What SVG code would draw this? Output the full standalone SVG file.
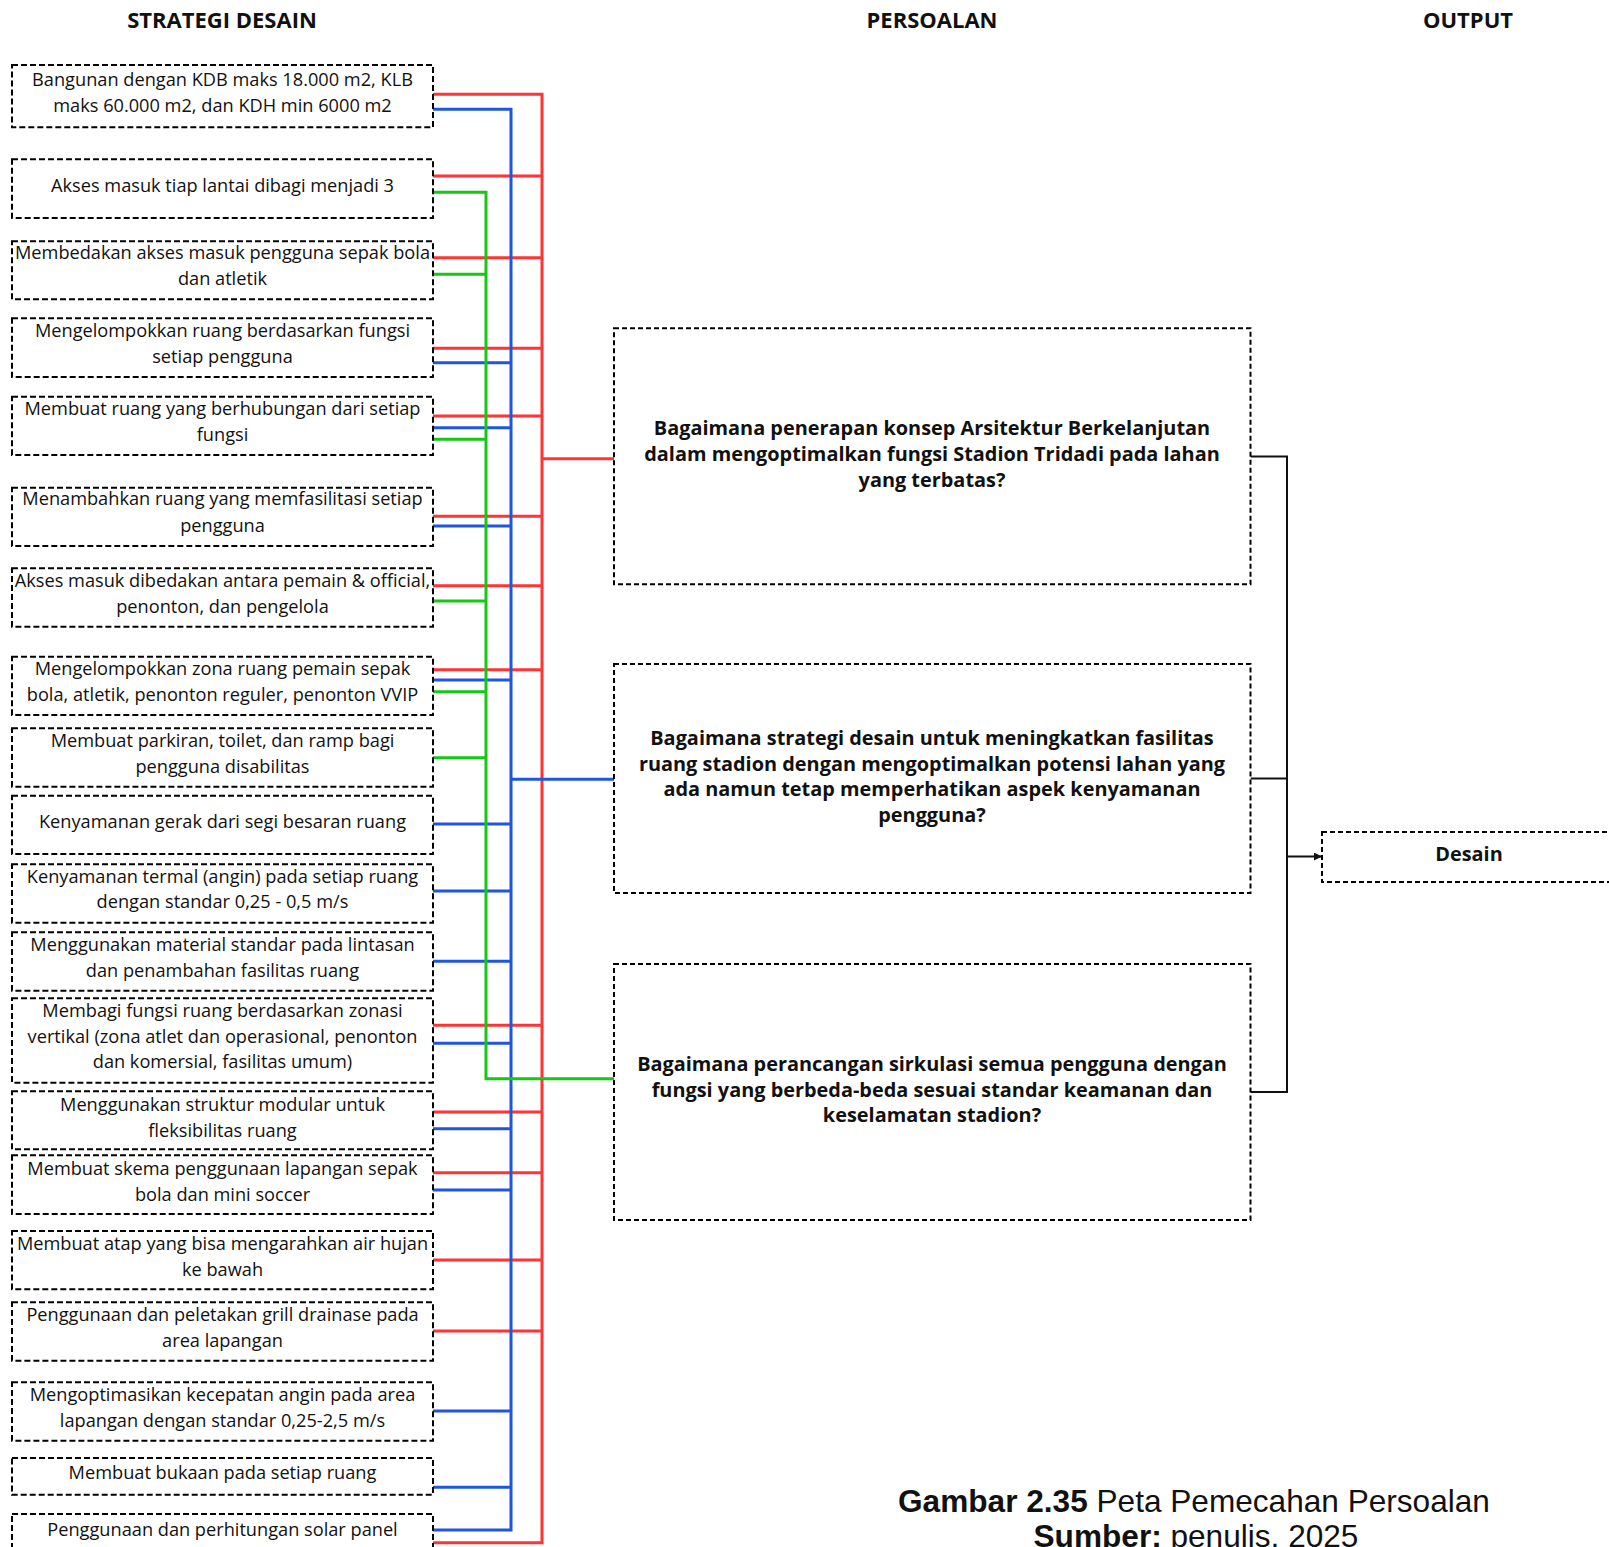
<svg xmlns="http://www.w3.org/2000/svg" width="1609" height="1547" viewBox="0 0 1609 1547">
<defs>
<style>
.bx{fill:#fff;stroke:#000;stroke-width:2;stroke-dasharray:6 3}
.qb{fill:#fff;stroke:#000;stroke-width:2;stroke-dasharray:5 3}
.t{font-family:"Open Sans","Noto Sans",sans-serif;font-size:18.2px;fill:#111;text-anchor:middle}
.q{font-family:"Open Sans","Noto Sans",sans-serif;font-size:19.9px;font-weight:bold;fill:#111;text-anchor:middle}
.h{font-family:"Open Sans","Noto Sans",sans-serif;font-size:22px;font-weight:bold;fill:#111;text-anchor:middle}
.r{stroke:#ff3535;stroke-width:3;fill:none}
.b{stroke:#1f55e0;stroke-width:3;fill:none}
.g{stroke:#14c814;stroke-width:3;fill:none}
.k{stroke:#111;stroke-width:2;fill:none}
</style>
<marker id="arr" markerWidth="8" markerHeight="8" refX="7" refY="4" orient="auto" markerUnits="userSpaceOnUse">
<path d="M0,0 L8,4 L0,8 Z" fill="#111"/>
</marker>
</defs>
<rect width="1609" height="1547" fill="#fff"/>

<g id="headers">
<text class="h" x="222" y="28">STRATEGI DESAIN</text>
<text class="h" x="932" y="28">PERSOALAN</text>
<text class="h" x="1468" y="28">OUTPUT</text>
</g>

<g id="connectors">
<path class="r" d="M433,94.3 H542 V1542.7 H433"/>
<path class="r" d="M433,176 H542 M433,257.7 H542 M433,348.3 H542 M433,416 H542 M433,516.3 H542 M433,585.7 H542 M433,669.7 H542 M433,1025.3 H542 M433,1112 H542 M433,1172.7 H542 M433,1260 H542 M433,1331 H542"/>
<path class="r" d="M542,458.7 H614"/>
<path class="b" d="M433,109.3 H511 V1530 H433"/>
<path class="b" d="M433,362.7 H511 M433,427.7 H511 M433,526 H511 M433,680 H511 M433,824 H511 M433,891 H511 M433,961.3 H511 M433,1043.3 H511 M433,1128.7 H511 M433,1190 H511 M433,1411 H511 M433,1487.3 H511"/>
<path class="b" d="M511,779.3 H614"/>
<path class="g" d="M433,192.3 H486 V1078.7 H614"/>
<path class="g" d="M433,274.3 H486 M433,439.3 H486 M433,601 H486 M433,691.7 H486 M433,757.7 H486"/>
<path class="k" d="M1250.5,456.6 H1287 V1092 H1250.5 M1250.5,778.5 H1287"/>
<path class="k" d="M1287,856.6 H1321" marker-end="url(#arr)"/>
</g>

<g id="s1"><rect class="bx" x="12" y="65" width="421" height="62.3"/><text class="t"><tspan x="222.5" y="86">Bangunan dengan KDB maks 18.000 m2, KLB</tspan><tspan x="222.5" y="111.7">maks 60.000 m2, dan KDH min 6000 m2</tspan></text></g>
<g id="s2"><rect class="bx" x="12" y="159.3" width="421" height="58.7"/><text class="t" x="222.5" y="191.7">Akses masuk tiap lantai dibagi menjadi 3</text></g>
<g id="s3"><rect class="bx" x="12" y="241.3" width="421" height="58"/><text class="t"><tspan x="222.5" y="259.3">Membedakan akses masuk pengguna sepak bola</tspan><tspan x="222.5" y="285.3">dan atletik</tspan></text></g>
<g id="s4"><rect class="bx" x="12" y="318.3" width="421" height="58.7"/><text class="t"><tspan x="222.5" y="336.7">Mengelompokkan ruang berdasarkan fungsi</tspan><tspan x="222.5" y="363.3">setiap pengguna</tspan></text></g>
<g id="s5"><rect class="bx" x="12" y="396.7" width="421" height="58.3"/><text class="t"><tspan x="222.5" y="415">Membuat ruang yang berhubungan dari setiap</tspan><tspan x="222.5" y="440.7">fungsi</tspan></text></g>
<g id="s6"><rect class="bx" x="12" y="487.7" width="421" height="58.3"/><text class="t"><tspan x="222.5" y="505">Menambahkan ruang yang memfasilitasi setiap</tspan><tspan x="222.5" y="531.7">pengguna</tspan></text></g>
<g id="s7"><rect class="bx" x="12" y="568.3" width="421" height="58.4"/><text class="t"><tspan x="222.5" y="587.3">Akses masuk dibedakan antara pemain &amp; official,</tspan><tspan x="222.5" y="613.3">penonton, dan pengelola</tspan></text></g>
<g id="s8"><rect class="bx" x="12" y="656.7" width="421" height="58.3"/><text class="t"><tspan x="222.5" y="675">Mengelompokkan zona ruang pemain sepak</tspan><tspan x="222.5" y="700.7">bola, atletik, penonton reguler, penonton VVIP</tspan></text></g>
<g id="s9"><rect class="bx" x="12" y="728.3" width="421" height="58.4"/><text class="t"><tspan x="222.5" y="747.3">Membuat parkiran, toilet, dan ramp bagi</tspan><tspan x="222.5" y="773.3">pengguna disabilitas</tspan></text></g>
<g id="s10"><rect class="bx" x="12" y="795.7" width="421" height="58.3"/><text class="t" x="222.5" y="827.7">Kenyamanan gerak dari segi besaran ruang</text></g>
<g id="s11"><rect class="bx" x="12" y="864.3" width="421" height="58.4"/><text class="t"><tspan x="222.5" y="882.7">Kenyamanan termal (angin) pada setiap ruang</tspan><tspan x="222.5" y="908.3">dengan standar 0,25 - 0,5 m/s</tspan></text></g>
<g id="s12"><rect class="bx" x="12" y="932.3" width="421" height="58.4"/><text class="t"><tspan x="222.5" y="950.7">Menggunakan material standar pada lintasan</tspan><tspan x="222.5" y="976.7">dan penambahan fasilitas ruang</tspan></text></g>
<g id="s13"><rect class="bx" x="12" y="998.3" width="421" height="84.4"/><text class="t"><tspan x="222.5" y="1016.7">Membagi fungsi ruang berdasarkan zonasi</tspan><tspan x="222.5" y="1042.7">vertikal (zona atlet dan operasional, penonton</tspan><tspan x="222.5" y="1068.3">dan komersial, fasilitas umum)</tspan></text></g>
<g id="s14"><rect class="bx" x="12" y="1091.3" width="421" height="58"/><text class="t"><tspan x="222.5" y="1110.7">Menggunakan struktur modular untuk</tspan><tspan x="222.5" y="1136.7">fleksibilitas ruang</tspan></text></g>
<g id="s15"><rect class="bx" x="12" y="1155.3" width="421" height="58.7"/><text class="t"><tspan x="222.5" y="1175">Membuat skema penggunaan lapangan sepak</tspan><tspan x="222.5" y="1200.7">bola dan mini soccer</tspan></text></g>
<g id="s16"><rect class="bx" x="12" y="1231" width="421" height="58.3"/><text class="t"><tspan x="222.5" y="1250">Membuat atap yang bisa mengarahkan air hujan</tspan><tspan x="222.5" y="1275.7">ke bawah</tspan></text></g>
<g id="s17"><rect class="bx" x="12" y="1302.3" width="421" height="58.4"/><text class="t"><tspan x="222.5" y="1320.7">Penggunaan dan peletakan grill drainase pada</tspan><tspan x="222.5" y="1346.7">area lapangan</tspan></text></g>
<g id="s18"><rect class="bx" x="12" y="1382.3" width="421" height="58.4"/><text class="t"><tspan x="222.5" y="1401">Mengoptimasikan kecepatan angin pada area</tspan><tspan x="222.5" y="1426.7">lapangan dengan standar 0,25-2,5 m/s</tspan></text></g>
<g id="s19"><rect class="bx" x="12" y="1458" width="421" height="36.7"/><text class="t" x="222.5" y="1479">Membuat bukaan pada setiap ruang</text></g>
<g id="s20"><rect class="bx" x="12" y="1514" width="421" height="60"/><text class="t" x="222.5" y="1536">Penggunaan dan perhitungan solar panel</text></g>

<g id="q1"><rect class="qb" x="614" y="328.3" width="636.5" height="256"/><text class="q"><tspan x="932" y="435">Bagaimana penerapan konsep Arsitektur Berkelanjutan</tspan><tspan x="932" y="461">dalam mengoptimalkan fungsi Stadion Tridadi pada lahan</tspan><tspan x="932" y="487">yang terbatas?</tspan></text></g>
<g id="q2"><rect class="qb" x="614" y="664" width="636.5" height="229"/><text class="q"><tspan x="932" y="745">Bagaimana strategi desain untuk meningkatkan fasilitas</tspan><tspan x="932" y="770.5">ruang stadion dengan mengoptimalkan potensi lahan yang</tspan><tspan x="932" y="796">ada namun tetap memperhatikan aspek kenyamanan</tspan><tspan x="932" y="822">pengguna?</tspan></text></g>
<g id="q3"><rect class="qb" x="614" y="964" width="636.5" height="256"/><text class="q"><tspan x="932" y="1071">Bagaimana perancangan sirkulasi semua pengguna dengan</tspan><tspan x="932" y="1097">fungsi yang berbeda-beda sesuai standar keamanan dan</tspan><tspan x="932" y="1122">keselamatan stadion?</tspan></text></g>

<g id="out"><rect class="qb" x="1322" y="832" width="300" height="50"/><text class="q" x="1469" y="861">Desain</text></g>

<g id="caption">
<text x="1194" y="1511.7" font-family="'Liberation Sans','Noto Sans',sans-serif" font-size="31.6" fill="#111" text-anchor="middle"><tspan font-weight="bold">Gambar 2.35</tspan> Peta Pemecahan Persoalan</text>
<text x="1196" y="1547" font-family="'Liberation Sans','Noto Sans',sans-serif" font-size="31.6" fill="#111" text-anchor="middle"><tspan font-weight="bold">Sumber:</tspan> penulis, 2025</text>
</g>
</svg>
